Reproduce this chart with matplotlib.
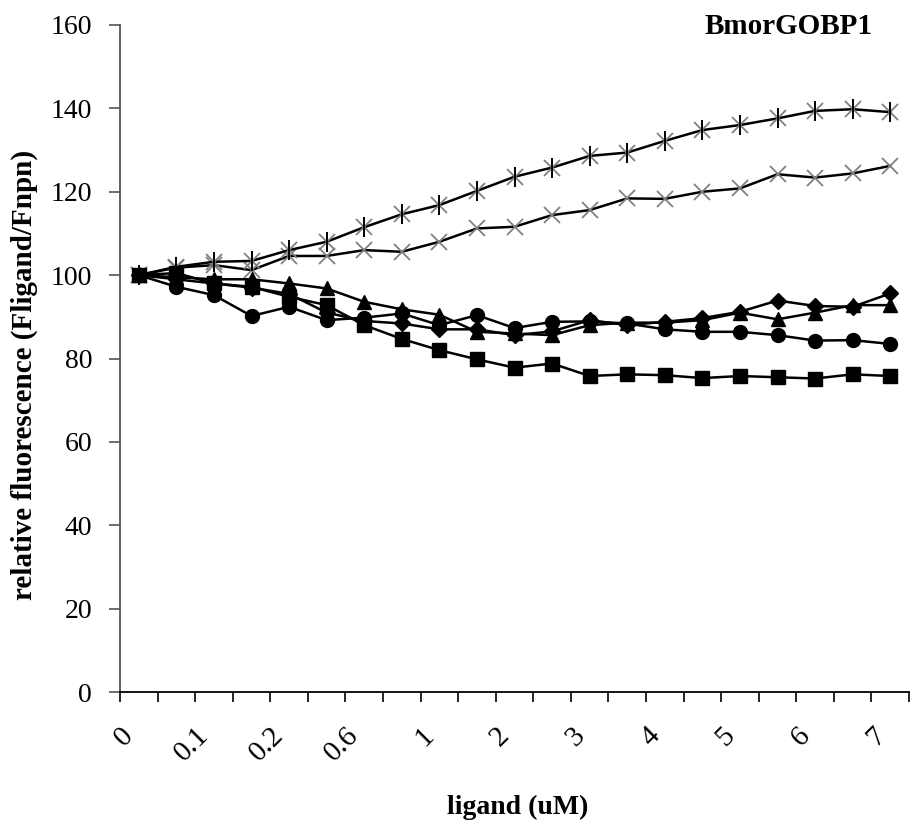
import numpy as np
import matplotlib
matplotlib.use("Agg")
import matplotlib.pyplot as plt
import matplotlib.transforms as mtransforms

plt.rcParams['font.family'] = ['Liberation Serif', 'DejaVu Serif']

# category labels (only every other category carries a label)
labels = ['0', '', '0.1', '', '0.2', '', '0.6', '', '1', '', '2', '',
          '3', '', '4', '', '5', '', '6', '', '7']

# relative fluorescence per ligand
star = [100, 102.0, 103.2, 103.4, 106.0, 108.0, 111.5, 114.6, 116.8, 120.2, 123.6,
        125.8, 128.6, 129.4, 132.2, 134.8, 136.0, 137.6, 139.4, 139.8, 139.1]
cross = [100, 101.8, 102.4, 101.2, 104.6, 104.6, 106.0, 105.6, 108.0, 111.2, 111.6,
         114.4, 115.6, 118.4, 118.3, 120.0, 120.8, 124.2, 123.4, 124.4, 126.2]
diamond = [100, 99.0, 98.0, 97.0, 95.5, 91.0, 89.0, 88.4, 87.0, 87.0, 85.6,
           86.5, 89.2, 88.0, 88.8, 89.7, 91.2, 93.9, 92.6, 92.4, 95.6]
square = [100, 100.5, 98.0, 97.2, 94.8, 92.8, 88.0, 84.7, 82.0, 79.8, 77.8,
          78.8, 75.8, 76.2, 76.0, 75.3, 75.8, 75.5, 75.2, 76.2, 75.8]
triangle = [100, 99.5, 99.0, 99.0, 98.0, 96.8, 93.6, 91.8, 90.5, 86.4, 86.0,
            85.6, 88.0, 88.6, 88.6, 89.2, 91.0, 89.4, 91.0, 92.8, 92.8]
circle = [100, 97.2, 95.2, 90.2, 92.4, 89.2, 89.8, 90.8, 88.0, 90.4, 87.3,
          88.8, 88.9, 88.4, 87.0, 86.4, 86.4, 85.6, 84.3, 84.4, 83.5]

x = np.arange(len(labels))

fig = plt.figure(figsize=(9.14, 8.25), dpi=100)
ax = fig.add_axes([120/914, 133/825, 789/914, 667/825])

lw = 1.8
ax.plot(x, cross, color='black', lw=lw, marker='x', ms=12, mew=1.3, mec='#808080')
ax.plot(x, star, color='black', lw=lw, marker='x', ms=12, mew=1.3, mec='#808080')
ax.plot(x, star, ls='none', marker='|', ms=14, mew=1.4, mec='black')
ax.plot(x, triangle, color='black', lw=lw, marker='^', ms=10)
ax.plot(x, circle, color='black', lw=lw, marker='o', ms=10)
ax.plot(x, diamond, color='black', lw=lw, marker='D', ms=8.5)
ax.plot(x, square, color='black', lw=lw, marker='s', ms=10.5)

ax.set_xlim(-0.5, 20.11)
ax.set_ylim(0, 160)
ax.set_yticks(np.arange(0, 161, 20))

# tick marks between categories, labels on the categories
ax.set_xticks(np.arange(-0.5, 20.6, 1))
ax.set_xticklabels([])
lab_pos = [i for i, l in enumerate(labels) if l]
ax.set_xticks(lab_pos, minor=True)
ax.set_xticklabels([labels[i] for i in lab_pos], minor=True, rotation=45,
                   ha='right', fontsize=21)
offset = mtransforms.ScaledTranslation(9/100, 0, fig.dpi_scale_trans)
for t in ax.xaxis.get_minorticklabels():
    t.set_transform(t.get_transform() + offset)
ax.tick_params(axis='x', which='minor', length=0, pad=22)
ax.tick_params(axis='x', which='major', length=7, width=1.2, direction='out')
ax.tick_params(axis='y', length=8, width=1.2, labelsize=20, pad=12, color='#555555')

ax.spines['top'].set_visible(False)
ax.spines['right'].set_visible(False)
ax.spines['left'].set_color('#555555')
ax.spines['left'].set_linewidth(1.3)
ax.spines['bottom'].set_linewidth(1.3)

ax.set_ylabel('relative fluorescence (Fligand/Fnpn)', fontsize=21, fontweight='bold')
ax.yaxis.set_label_coords(-0.104, 0.476)
ax.set_xlabel('ligand (uM)', fontsize=20, fontweight='bold')
ax.xaxis.set_label_coords(0.504, -0.154)

fig.text(789/914, 1 - 27/825, 'BmorGOBP1', fontsize=21, fontweight='bold',
         ha='center', va='center')

fig.savefig('out.png', dpi=100)
